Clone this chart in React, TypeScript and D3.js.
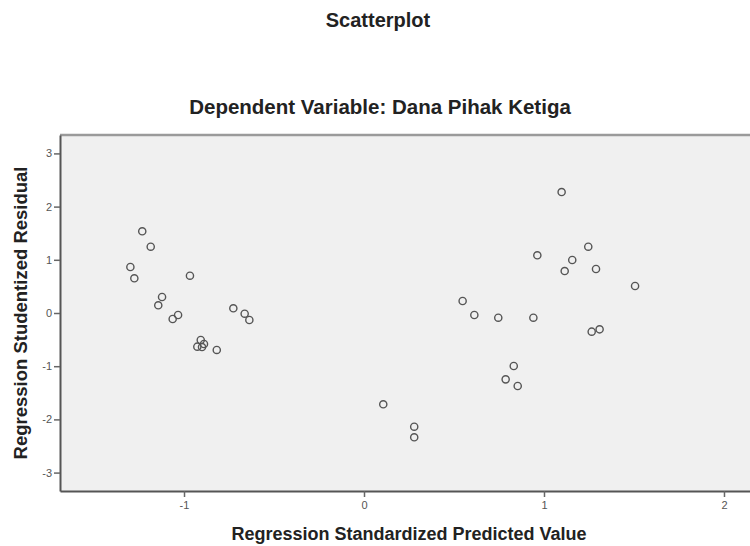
import { useEffect, useRef } from 'react';
import * as d3 from 'd3';

// predicted (x) and studentized residual (y)
const predicted = [
  -1.232, -1.185, -1.298, -1.276, -0.967, -1.122, -1.143, -1.063, -1.033,
  -0.726, -0.663, -0.637, -0.907, -0.926, -0.889, -0.9, -0.818,
  0.107, 0.279, 0.279,
  1.098, 0.963, 1.246, 1.157, 1.115, 1.289, 1.506, 0.548, 0.613, 0.746,
  0.941, 1.265, 1.309, 0.832, 0.787, 0.854,
];
const residual = [
  1.536, 1.246, 0.865, 0.652, 0.701, 0.301, 0.145, -0.113, -0.038,
  0.088, -0.013, -0.132, -0.508, -0.633, -0.583, -0.64, -0.695,
  -1.716, -2.137, -2.337,
  2.274, 1.085, 1.246, 0.996, 0.789, 0.827, 0.508, 0.226, -0.038, -0.088,
  -0.088, -0.351, -0.307, -0.996, -1.247, -1.372,
];
const xTicks = [-1, 0, 1, 2];
const yTicks = [3, 2, 1, 0, -1, -2, -3];

const title = 'Scatterplot';
const subtitle = 'Dependent Variable: Dana Pihak Ketiga';
const xLabel = 'Regression Standardized Predicted Value';
const yLabel = 'Regression Studentized Residual';

const App = () => {
  const ref = useRef<SVGSVGElement>(null);

  useEffect(() => {
    document.body.style.margin = '0';
    const svg = d3.select(ref.current);
    svg.selectAll('*').remove();

    const left = 60, top = 135, right = 758, bottom = 491;
    const font = 'Liberation Sans, Arial, sans-serif';

    const x = d3.scaleLinear().domain([-1.689, 2.189]).range([left, right]);
    const y = d3.scaleLinear().domain([-3.346, 3.346]).range([bottom, top]);

    svg.append('rect').attr('width', 750).attr('height', 546).attr('fill', '#fff');

    svg.append('rect')
      .attr('x', left).attr('y', top)
      .attr('width', right - left).attr('height', bottom - top)
      .attr('fill', '#f0f0f0');

    svg.append('line')
      .attr('x1', left).attr('x2', right).attr('y1', top).attr('y2', top)
      .attr('stroke', '#9a9a9a').attr('stroke-width', 2.5);

    const fmt = (d: d3.NumberValue) => String(d);
    const yAxis = svg.append('g')
      .attr('transform', `translate(${left},0)`)
      .call(d3.axisLeft(y).tickValues(yTicks).tickSize(6).tickSizeOuter(0).tickFormat(fmt));
    const xAxis = svg.append('g')
      .attr('transform', `translate(0,${bottom})`)
      .call(d3.axisBottom(x).tickValues(xTicks).tickSize(6).tickSizeOuter(0).tickFormat(fmt));

    [xAxis, yAxis].forEach(a => {
      a.select('.domain').attr('stroke', '#555').attr('stroke-width', 2);
      a.selectAll('.tick line').attr('stroke', '#666').attr('stroke-width', 1.5);
      a.selectAll('.tick text')
        .attr('fill', '#555')
        .style('font-family', font)
        .style('font-size', '11px');
    });
    yAxis.selectAll('.tick text').attr('x', -8);
    xAxis.selectAll('.tick text').attr('y', 10);

    svg.append('g')
      .selectAll('circle')
      .data(predicted.map((p, i) => [p, residual[i]]))
      .enter()
      .append('circle')
      .attr('cx', d => x(d[0]))
      .attr('cy', d => y(d[1]))
      .attr('r', 3.6)
      .attr('fill', 'none')
      .attr('stroke', '#555')
      .attr('stroke-width', 1.4);

    svg.append('text')
      .attr('x', 378).attr('y', 27)
      .attr('text-anchor', 'middle')
      .style('font-family', font).style('font-weight', 'bold').style('font-size', '20px')
      .attr('fill', '#222')
      .text(title);

    svg.append('text')
      .attr('x', 380).attr('y', 114)
      .attr('text-anchor', 'middle')
      .style('font-family', font).style('font-weight', 'bold').style('font-size', '20.5px')
      .attr('fill', '#222')
      .text(subtitle);

    svg.append('text')
      .attr('x', 409).attr('y', 540)
      .attr('text-anchor', 'middle')
      .style('font-family', font).style('font-weight', 'bold').style('font-size', '18px')
      .attr('fill', '#222')
      .text(xLabel);

    svg.append('text')
      .attr('transform', `translate(27,${(top + bottom) / 2}) rotate(-90)`)
      .attr('text-anchor', 'middle')
      .style('font-family', font).style('font-weight', 'bold').style('font-size', '18.5px')
      .attr('fill', '#222')
      .text(yLabel);
  }, []);

  return <svg ref={ref} width={750} height={546} style={{ display: 'block' }} />;
};

export default App;
